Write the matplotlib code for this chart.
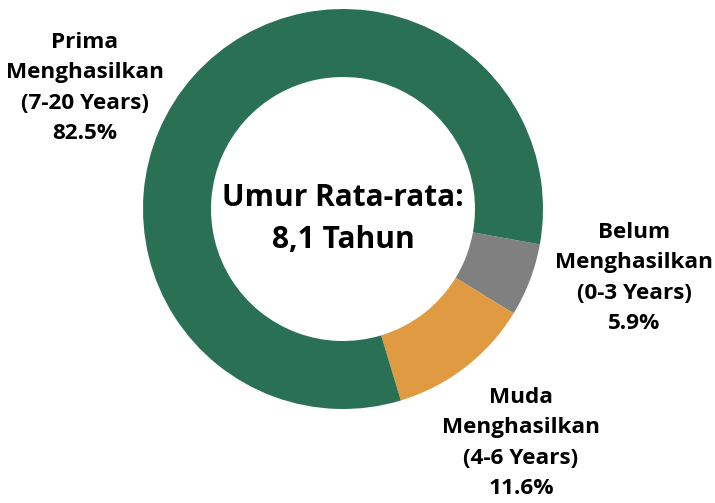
import matplotlib
matplotlib.use("Agg")
import matplotlib.pyplot as plt

categories = ["Belum\nMenghasilkan\n(0-3 Years)", "Muda\nMenghasilkan\n(4-6 Years)", "Prima\nMenghasilkan\n(7-20 Years)"]
values = [5.9, 11.6, 82.5]
colors = ["#808080", "#e09b42", "#2a7055"]
center_text = "Umur Rata-rata:\n8,1 Tahun"

plt.rcParams['font.family'] = ['Open Sans', 'DejaVu Sans']

fig = plt.figure(figsize=(7.15, 5.03), dpi=100)
ax = fig.add_axes([0, 0, 1, 1])
ax.pie(values, colors=colors, startangle=-10.2, counterclock=False,
       radius=1.0, wedgeprops=dict(width=0.34, edgecolor='none'))
ax.set_xlim(-1.715, 1.86)
ax.set_ylim(-1.47, 1.045)
ax.set_aspect('equal')
ax.axis('off')

label_pos = [(1.455, -0.345), (0.89, -1.17), (-1.29, 0.605)]
for cat, v, (x, y) in zip(categories, values, label_pos):
    ax.text(x, y, f"{cat}\n{v:.1f}%", ha='center', va='center',
            fontsize=16.2, fontweight='bold', linespacing=1.6, color='black')

ax.text(0, -0.05, center_text, ha='center', va='center', fontsize=21.5,
        fontweight='bold', linespacing=1.5, color='black')

fig.savefig("out.png", dpi=100)
